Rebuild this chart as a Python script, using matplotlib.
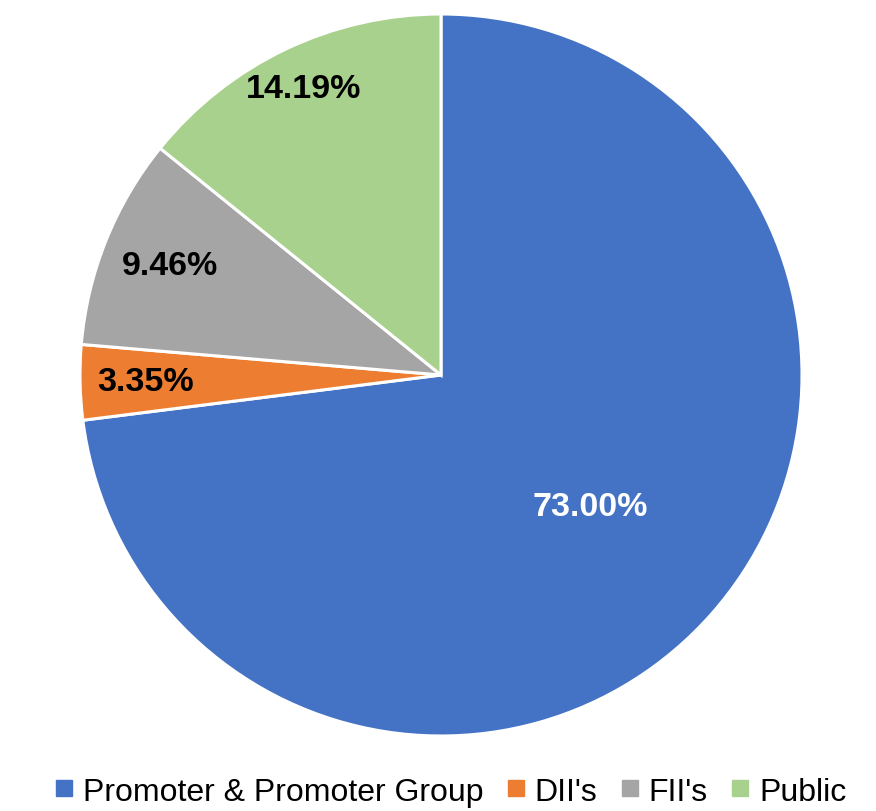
import numpy as np
import matplotlib
matplotlib.use("Agg")
import matplotlib.pyplot as plt
from matplotlib.lines import Line2D

# shareholding pattern
labels = ["Promoter & Promoter Group", "DII's", "FII's", "Public"]
shares = [73.00, 3.35, 9.46, 14.19]
colors = ["#4472C4", "#ED7D31", "#A5A5A5", "#A9D18E"]
label_colors = ["white", "black", "black", "black"]
label_dist = [0.55, 0.82, 0.81, 0.88]

plt.rcParams["font.family"] = ["Liberation Sans", "DejaVu Sans"]

W, H = 876, 812
fig = plt.figure(figsize=(W / 100, H / 100), dpi=100)
cx, cy, r = 441, 376, 361
ax = fig.add_axes([(cx - r) / W, (H - cy - r) / H, 2 * r / W, 2 * r / H])

wedges, _ = ax.pie(shares, colors=colors, startangle=90, counterclock=False,
                   radius=1, wedgeprops=dict(edgecolor="white", linewidth=2.2))
ax.set_xlim(-1, 1)
ax.set_ylim(-1, 1)
ax.set_aspect("equal")
ax.axis("off")

for w, val, c, d in zip(wedges, shares, label_colors, label_dist):
    mid = np.deg2rad((w.theta1 + w.theta2) / 2)
    ax.text(d * np.cos(mid), d * np.sin(mid), f"{val:.2f}%", ha="center", va="center",
            fontsize=24.5, fontweight="bold", color=c)

handles = [Line2D([], [], marker="s", linestyle="", markersize=11,
                  markerfacecolor=c, markeredgecolor=c) for c in colors]
fig.legend(handles, labels, loc="center", bbox_to_anchor=(0.515, 0.024), ncol=4,
           frameon=False, fontsize=23, handlelength=0.5, handletextpad=0.35,
           columnspacing=0.75, borderpad=0)

fig.savefig("out.png", dpi=100)
